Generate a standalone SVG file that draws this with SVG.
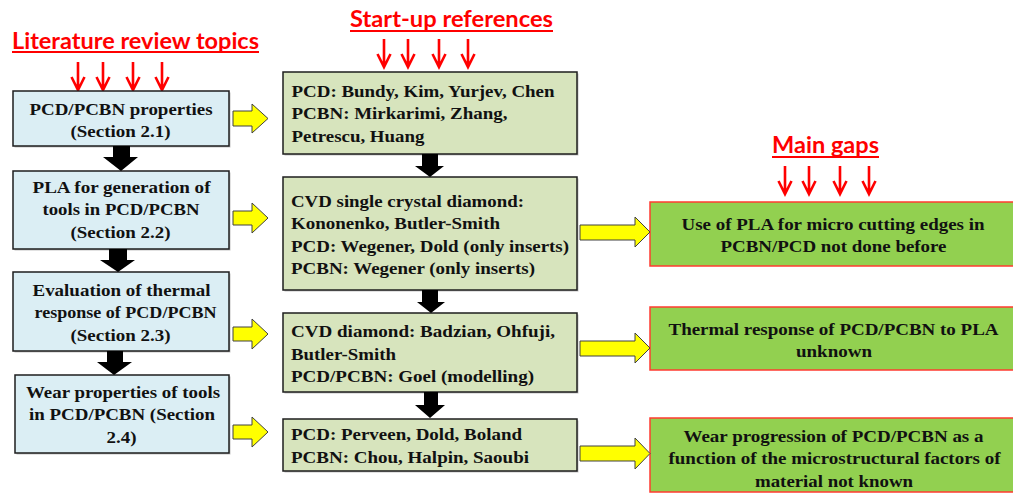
<svg xmlns="http://www.w3.org/2000/svg" width="1013" height="493" viewBox="0 0 1013 493">
  <style>
    .title { font-family: Lato, "Liberation Sans", sans-serif; font-weight: 700; font-size: 23px; fill: #ff0000; }
    .uline { stroke: #ff0000; stroke-width: 2; }
    .txt { font-family: "Liberation Serif", "Liberation Sans", Arial, sans-serif; font-weight: 700; font-size: 17px; fill: #111111; }
    .blue { fill: #dbeef4; stroke: #1e1e1e; stroke-width: 1.5; }
    .olive { fill: #d7e4bd; stroke: #1e1e1e; stroke-width: 1.5; }
    .lime { fill: #92d050; stroke: #ff3b30; stroke-width: 1.5; }
    .shadow { fill: #c4c4c4; }
    .yarrow { fill: #ffff00; stroke: #404040; stroke-width: 1; stroke-linejoin: miter; }
    .barrow { fill: #000000; }
    .rarrow { fill: none; stroke: #ff0000; stroke-width: 2.6; stroke-linejoin: miter; }
  </style>
  <defs>
    <!-- thin red down-arrow used under each column heading -->
    <path id="redDown" d="M0,0 V28 M-6.5,15 L0,28 L6.5,15" class="rarrow"/>
  </defs>

  <rect width="1013" height="493" fill="#ffffff"/>

  <!-- column headings -->
  <g id="heading-literature">
    <text class="title" x="12" y="49" textLength="247" lengthAdjust="spacingAndGlyphs">Literature review topics</text>
    <line class="uline" x1="12" y1="52" x2="259" y2="52"/>
    <use href="#redDown" x="78" y="62"/>
    <use href="#redDown" x="103" y="62"/>
    <use href="#redDown" x="133" y="62"/>
    <use href="#redDown" x="162" y="62"/>
  </g>
  <g id="heading-startup">
    <text class="title" x="350" y="27" textLength="203" lengthAdjust="spacingAndGlyphs">Start-up references</text>
    <line class="uline" x1="350" y1="31" x2="553" y2="31"/>
    <use href="#redDown" x="384" y="39"/>
    <use href="#redDown" x="408" y="39"/>
    <use href="#redDown" x="439" y="39"/>
    <use href="#redDown" x="468" y="39"/>
  </g>
  <g id="heading-gaps">
    <text class="title" x="772" y="153" textLength="107" lengthAdjust="spacingAndGlyphs">Main gaps</text>
    <line class="uline" x1="772" y1="157" x2="879" y2="157"/>
    <use href="#redDown" x="785" y="166"/>
    <use href="#redDown" x="809" y="166"/>
    <use href="#redDown" x="840" y="166"/>
    <use href="#redDown" x="869" y="166"/>
  </g>

  <!-- literature review topics -->
  <g id="topic-1">
    <rect class="shadow" x="14.5" y="92.5" width="216" height="55"/>
    <rect class="blue" x="13" y="91" width="216" height="55"/>
    <text class="txt" x="29.5" y="115" textLength="183" lengthAdjust="spacingAndGlyphs">PCD/PCBN properties</text>
    <text class="txt" x="70.5" y="137" textLength="100" lengthAdjust="spacingAndGlyphs">(Section 2.1)</text>
  </g>
  <g id="topic-2">
    <rect class="shadow" x="14.5" y="172.5" width="216" height="78"/>
    <rect class="blue" x="13" y="171" width="216" height="78"/>
    <text class="txt" x="32.5" y="193" textLength="178" lengthAdjust="spacingAndGlyphs">PLA for generation of</text>
    <text class="txt" x="42.5" y="215" textLength="157" lengthAdjust="spacingAndGlyphs">tools in PCD/PCBN</text>
    <text class="txt" x="70.5" y="238" textLength="100" lengthAdjust="spacingAndGlyphs">(Section 2.2)</text>
  </g>
  <g id="topic-3">
    <rect class="shadow" x="14.5" y="273.5" width="216" height="79"/>
    <rect class="blue" x="13" y="272" width="216" height="79"/>
    <text class="txt" x="32.5" y="296" textLength="178" lengthAdjust="spacingAndGlyphs">Evaluation of thermal</text>
    <text class="txt" x="34.5" y="318" textLength="182" lengthAdjust="spacingAndGlyphs">response of PCD/PCBN</text>
    <text class="txt" x="70.5" y="341" textLength="100" lengthAdjust="spacingAndGlyphs">(Section 2.3)</text>
  </g>
  <g id="topic-4">
    <rect class="shadow" x="16.5" y="376.5" width="214" height="78"/>
    <rect class="blue" x="15" y="375" width="214" height="78"/>
    <text class="txt" x="26" y="398" textLength="194" lengthAdjust="spacingAndGlyphs">Wear properties of tools</text>
    <text class="txt" x="29" y="420" textLength="186" lengthAdjust="spacingAndGlyphs">in PCD/PCBN (Section</text>
    <text class="txt" x="106.5" y="443" textLength="30" lengthAdjust="spacingAndGlyphs">2.4)</text>
  </g>

  <!-- start-up references -->
  <g id="refs-1">
    <rect class="shadow" x="284.5" y="73.5" width="294" height="82"/>
    <rect class="olive" x="283" y="72" width="294" height="82"/>
    <text class="txt" x="291.5" y="97" textLength="263" lengthAdjust="spacingAndGlyphs">PCD: Bundy, Kim, Yurjev, Chen</text>
    <text class="txt" x="291.5" y="119" textLength="216" lengthAdjust="spacingAndGlyphs">PCBN: Mirkarimi, Zhang,</text>
    <text class="txt" x="291.5" y="142" textLength="133" lengthAdjust="spacingAndGlyphs">Petrescu, Huang</text>
  </g>
  <g id="refs-2">
    <rect class="shadow" x="284.5" y="178.5" width="294" height="113"/>
    <rect class="olive" x="283" y="177" width="294" height="113"/>
    <text class="txt" x="291" y="207" textLength="233" lengthAdjust="spacingAndGlyphs">CVD single crystal diamond:</text>
    <text class="txt" x="291" y="229" textLength="209" lengthAdjust="spacingAndGlyphs">Kononenko, Butler-Smith</text>
    <text class="txt" x="291" y="252" textLength="278" lengthAdjust="spacingAndGlyphs">PCD: Wegener, Dold (only inserts)</text>
    <text class="txt" x="291" y="274" textLength="244" lengthAdjust="spacingAndGlyphs">PCBN: Wegener (only inserts)</text>
  </g>
  <g id="refs-3">
    <rect class="shadow" x="284.5" y="314.5" width="294" height="79"/>
    <rect class="olive" x="283" y="313" width="294" height="79"/>
    <text class="txt" x="291" y="337" textLength="264" lengthAdjust="spacingAndGlyphs">CVD diamond: Badzian, Ohfuji,</text>
    <text class="txt" x="291" y="360" textLength="105" lengthAdjust="spacingAndGlyphs">Butler-Smith</text>
    <text class="txt" x="291" y="382" textLength="243" lengthAdjust="spacingAndGlyphs">PCD/PCBN: Goel (modelling)</text>
  </g>
  <g id="refs-4">
    <rect class="shadow" x="284.5" y="420.5" width="294" height="52"/>
    <rect class="olive" x="283" y="419" width="294" height="52"/>
    <text class="txt" x="291" y="440" textLength="231" lengthAdjust="spacingAndGlyphs">PCD: Perveen, Dold, Boland</text>
    <text class="txt" x="291" y="463" textLength="238" lengthAdjust="spacingAndGlyphs">PCBN: Chou, Halpin, Saoubi</text>
  </g>

  <!-- main gaps -->
  <g id="gap-1">
    <rect class="lime" x="650" y="202" width="375" height="64"/>
    <text class="txt" x="681.5" y="230" textLength="303" lengthAdjust="spacingAndGlyphs">Use of PLA for micro cutting edges in</text>
    <text class="txt" x="720.5" y="252" textLength="226" lengthAdjust="spacingAndGlyphs">PCBN/PCD not done before</text>
  </g>
  <g id="gap-2">
    <rect class="lime" x="650" y="307" width="375" height="63"/>
    <text class="txt" x="668.5" y="335" textLength="330" lengthAdjust="spacingAndGlyphs">Thermal response of PCD/PCBN to PLA</text>
    <text class="txt" x="796" y="357" textLength="76" lengthAdjust="spacingAndGlyphs">unknown</text>
  </g>
  <g id="gap-3">
    <rect class="lime" x="650" y="418" width="375" height="74"/>
    <text class="txt" x="683.5" y="442" textLength="300" lengthAdjust="spacingAndGlyphs">Wear progression of PCD/PCBN as a</text>
    <text class="txt" x="668.5" y="464" textLength="332" lengthAdjust="spacingAndGlyphs">function of the microstructural factors of</text>
    <text class="txt" x="755" y="487" textLength="158" lengthAdjust="spacingAndGlyphs">material not known</text>
  </g>

  <!-- connectors -->
  <g id="connectors">
    <!-- topics to references -->
    <path class="yarrow" d="M233,111 H252 V104 L268,118.5 L252,133 V126 H233 Z"/>
    <path class="yarrow" d="M233,211 H252 V203 L268,218 L252,233 V225 H233 Z"/>
    <path class="yarrow" d="M233,327 H252 V319 L268,334 L252,349 V341 H233 Z"/>
    <path class="yarrow" d="M233,425 H252 V417 L268,432 L252,447 V439 H233 Z"/>
    <!-- references to gaps -->
    <path class="yarrow" d="M580,225 H635 V217 L650,232 L635,247 V240 H580 Z"/>
    <path class="yarrow" d="M580,341 H635 V333 L650,348 L635,363 V356 H580 Z"/>
    <path class="yarrow" d="M580,446 H635 V438 L650,453.5 L635,469 V461 H580 Z"/>
    <!-- topic sequence -->
    <path class="barrow" d="M113,146 H130 V157 H138 L121,171 L103,157 H113 Z"/>
    <path class="barrow" d="M109,249 H127 V260 H135 L118,272 L100,260 H109 Z"/>
    <path class="barrow" d="M107,351 H123 V362 H132 L114,375 L97,362 H107 Z"/>
    <!-- reference sequence -->
    <path class="barrow" d="M422,154 H438 V166 H444 L430,177 L415,166 H422 Z"/>
    <path class="barrow" d="M422,290 H438 V302 H445 L431,313 L417,302 H422 Z"/>
    <path class="barrow" d="M424,392 H438 V405 H445 L430,418 L415,405 H424 Z"/>
  </g>
</svg>
